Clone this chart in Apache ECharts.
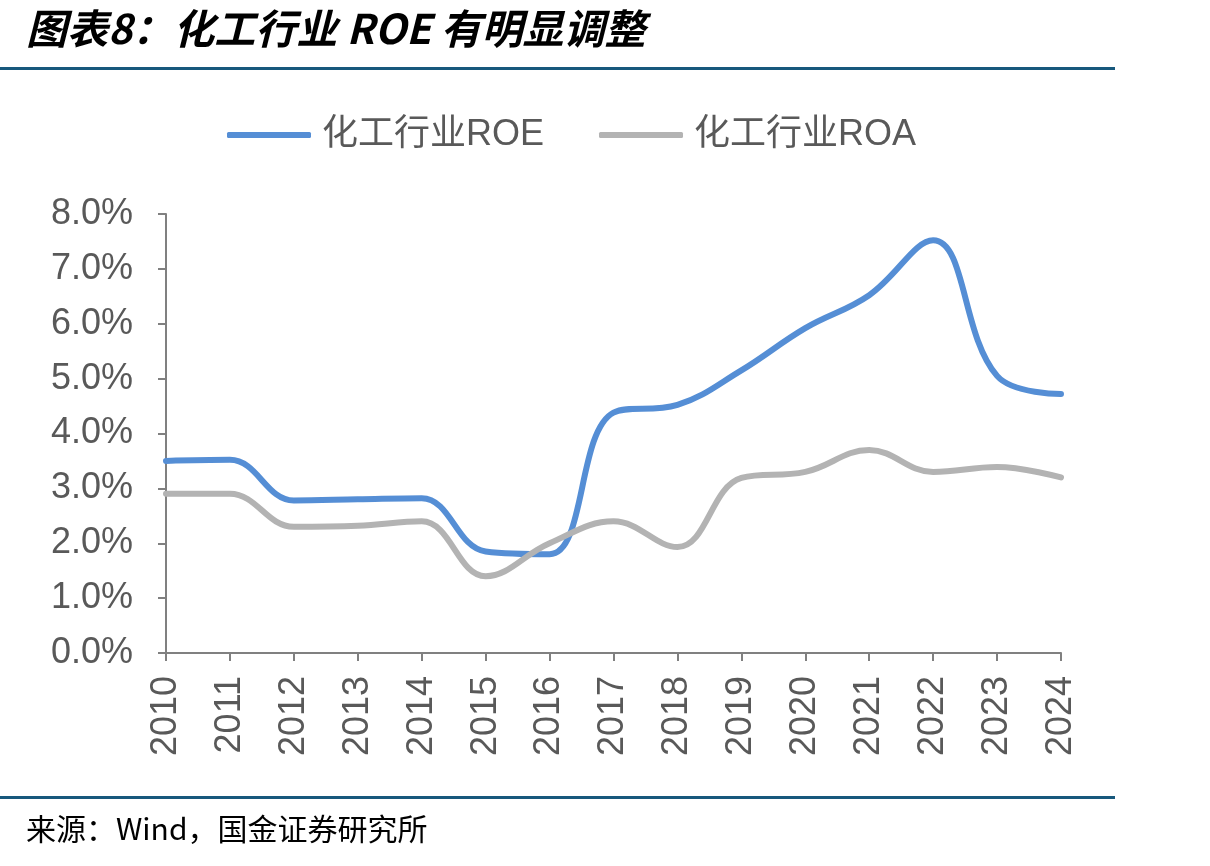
<!DOCTYPE html>
<html>
<head>
<meta charset="utf-8">
<script src="https://cdn.jsdelivr.net/npm/echarts@6/dist/echarts.min.js"></script>
<style>
  html, body { margin: 0; padding: 0; background: #fff; }
  #chart { width: 1210px; height: 866px; }
</style>
</head>
<body>
<div id="chart"></div>
<script>
const years = ["2010", "2011", "2012", "2013", "2014", "2015", "2016", "2017", "2018", "2019", "2020", "2021", "2022", "2023", "2024"];
const roe = [3.5, 3.52, 2.78, 2.8, 2.82, 1.85, 1.8, 4.38, 4.52, 5.15, 5.92, 6.52, 7.52, 5.05, 4.72];
const roa = [2.9, 2.9, 2.3, 2.32, 2.4, 1.4, 2.0, 2.4, 1.93, 3.19, 3.3, 3.7, 3.3, 3.39, 3.2];
const seriesNames = ["化工行业ROE", "化工行业ROA"];

const chart = echarts.init(document.getElementById("chart"));
const grayText = "#595959";
const axisGray = "#808080";

chart.setOption({
  animation: false,
  backgroundColor: "#fff",
  textStyle: { fontFamily: "Liberation Sans, Arial, Noto Sans CJK SC, sans-serif" },
  graphic: [
    {
      type: "text", left: 26, top: 8,
      style: {
        text: "图表8：化工行业 ROE 有明显调整",
        font: "italic bold 41px 'Noto Sans CJK SC', sans-serif",
        fill: "#000"
      }
    },
    { type: "rect", shape: { x: 0, y: 67, width: 1115, height: 3 }, style: { fill: "#17587c" } },
    { type: "rect", shape: { x: 0, y: 796, width: 1115, height: 3 }, style: { fill: "#17587c" } },
    {
      type: "text", left: 26, top: 814,
      style: {
        text: "来源：Wind，国金证券研究所",
        font: "30px 'Noto Sans CJK SC', sans-serif",
        fill: "#000"
      }
    }
  ],
  legend: {
    top: 112,
    left: 222,
    itemWidth: 84,
    itemHeight: 6,
    itemGap: 55,
    icon: "roundRect",
    textStyle: { fontSize: 36, color: grayText, padding: [0, 0, 0, 6] },
    data: seriesNames
  },
  grid: { left: 166, right: 149, top: 214, bottom: 213 },
  xAxis: {
    type: "category",
    data: years,
    boundaryGap: false,
    axisLine: { lineStyle: { color: axisGray, width: 2 } },
    axisTick: { show: true, length: 8, lineStyle: { color: axisGray, width: 2 } },
    axisLabel: { rotate: 90, fontSize: 36, color: grayText, margin: 23 }
  },
  yAxis: {
    type: "value",
    min: 0,
    max: 8,
    interval: 1,
    splitLine: { show: false },
    axisLine: { show: true, lineStyle: { color: axisGray, width: 2 } },
    axisTick: { show: true, length: 8, lineStyle: { color: axisGray, width: 2 } },
    axisLabel: { fontSize: 36, color: grayText, margin: 33, formatter: v => v.toFixed(1) + "%" }
  },
  series: [
    {
      name: seriesNames[0], type: "line", data: roe, smooth: 0.4,
      showSymbol: false, symbol: "none",
      lineStyle: { color: "#558ed5", width: 6, cap: "round" },
      itemStyle: { color: "#558ed5" }
    },
    {
      name: seriesNames[1], type: "line", data: roa, smooth: 0.4,
      showSymbol: false, symbol: "none",
      lineStyle: { color: "#b3b3b3", width: 6, cap: "round" },
      itemStyle: { color: "#b3b3b3" }
    }
  ]
});
</script>
</body>
</html>
